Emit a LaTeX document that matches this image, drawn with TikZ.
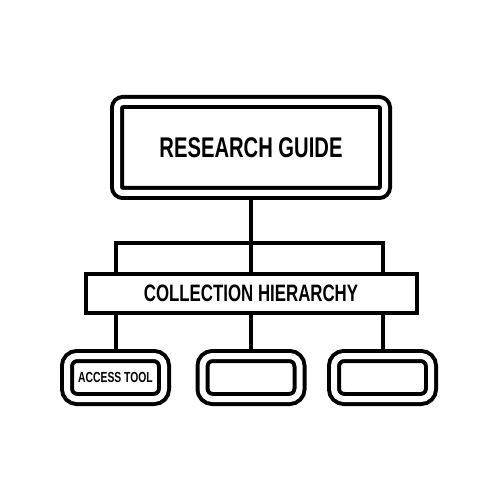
\documentclass[tikz,border=0pt]{standalone}
\usepackage{fontspec}
\newfontfamily\boxfont{Liberation Sans}[FakeStretch=0.71]

\begin{document}
\begin{tikzpicture}[
    node distance=2.92cm,
    guidebox/.style={rectangle, draw, double, double distance=0.12cm, line width=0.08cm, rounded corners=0.12cm, minimum width=5.36cm, minimum height=1.82cm, inner sep=0pt, outer sep=0.14cm, font=\boxfont\bfseries\fontsize{16.2}{19}\selectfont},
    tierbar/.style={rectangle, draw, line width=0.08cm, minimum width=6.62cm, minimum height=0.78cm, inner sep=0pt, font=\boxfont\bfseries\fontsize{13.5}{16}\selectfont},
    toolbox/.style={rectangle, draw, double, double distance=0.12cm, line width=0.08cm, rounded corners=0.2cm, minimum width=1.94cm, minimum height=0.86cm, inner sep=0pt, outer sep=0.14cm, font=\boxfont\bfseries\fontsize{8.3}{10}\selectfont},
    link/.style={line width=0.08cm}
]
    \useasboundingbox (0,0) rectangle (10,-10);

    \node [guidebox] (guide) at (5.02,-2.95) {RESEARCH GUIDE};
    \node [tierbar, below of=guide] (hierarchy) {COLLECTION HIERARCHY};
    \node [toolbox, below of=hierarchy, node distance=1.68cm] (middle) {};
    \node [toolbox, left of=middle, node distance=2.71cm] (access) {ACCESS TOOL};
    \node [toolbox, right of=middle, node distance=2.63cm] (empty) {};
    \coordinate [above of=hierarchy, node distance=1.01cm] (fork);

    \draw [link] (guide) -- (hierarchy);
    \draw [link] (access |- hierarchy.north) |- (fork) -| (empty |- hierarchy.north);
    \draw [link] (access |- hierarchy.south) -- (access);
    \draw [link] (hierarchy) -- (middle);
    \draw [link] (empty |- hierarchy.south) -- (empty);
\end{tikzpicture}
\end{document}
